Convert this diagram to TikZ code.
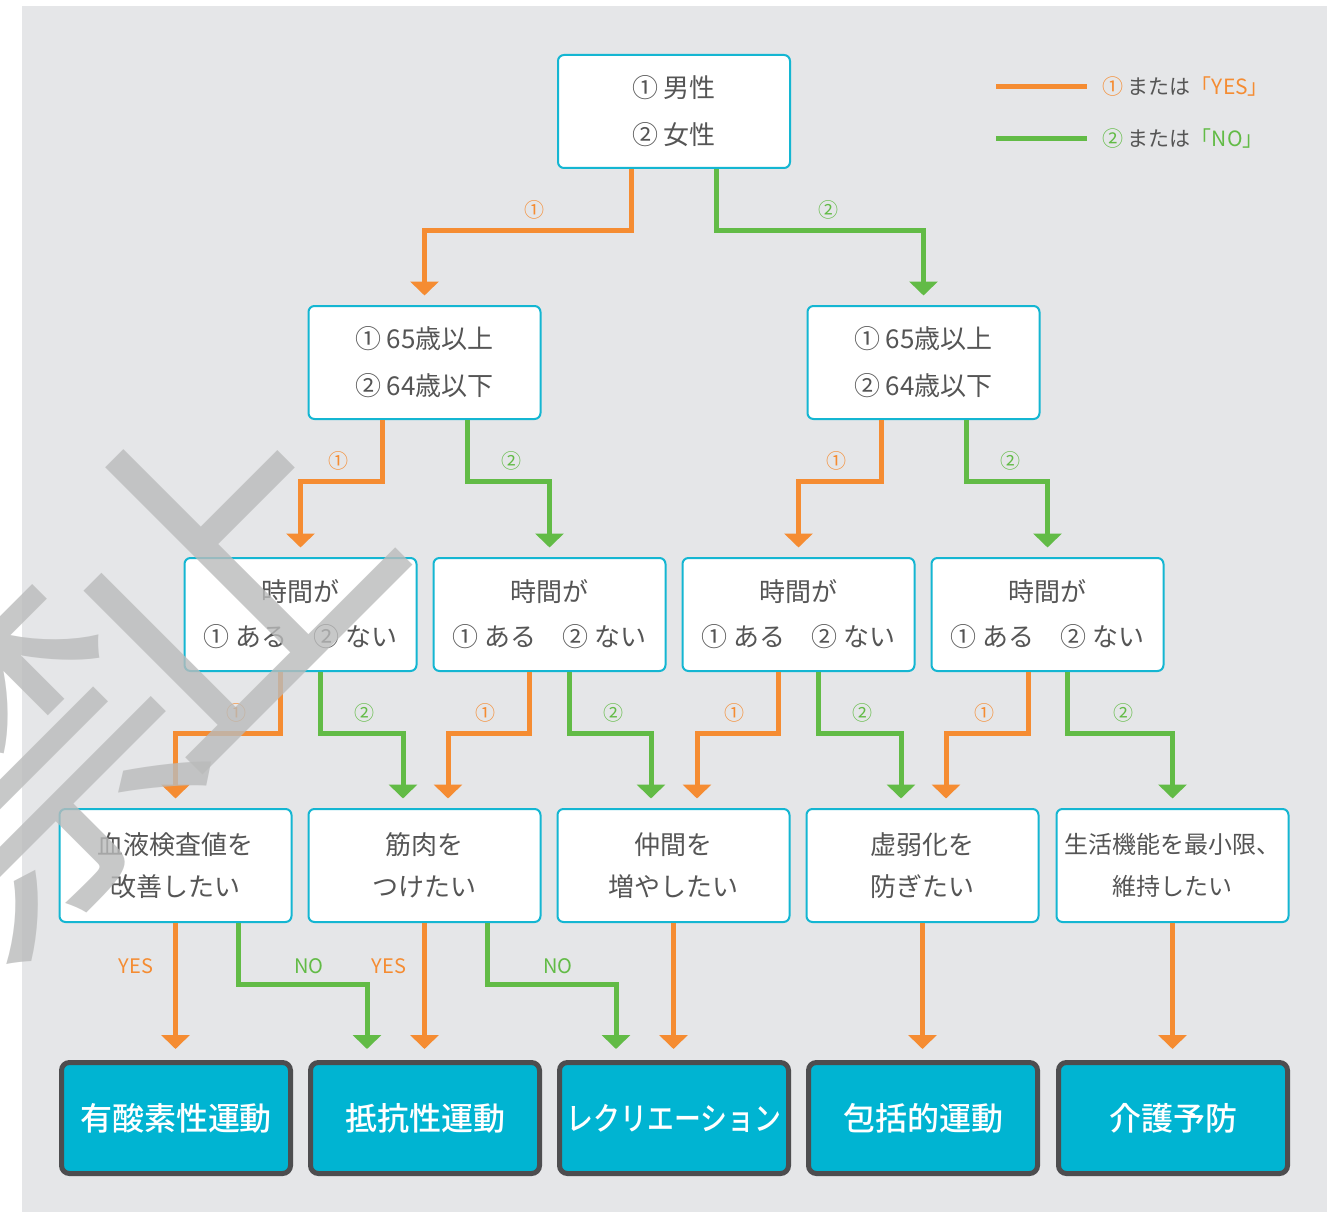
\documentclass[tikz,border=0pt]{standalone}
\usepackage{fontspec}
\setmainfont{Noto Sans CJK JP}[BoldFont={Noto Sans CJK JP Medium}]
\usetikzlibrary{arrows.meta}
\definecolor{bgc}{RGB}{229,230,232}
\definecolor{cyf}{RGB}{0,180,210}
\definecolor{cyb}{RGB}{20,182,210}
\definecolor{dk}{RGB}{77,77,79}
\definecolor{orc}{RGB}{245,140,50}
\definecolor{grc}{RGB}{98,187,70}
\definecolor{txt}{RGB}{85,85,85}
\definecolor{wm}{RGB}{186,187,187}
\begin{document}
\begin{tikzpicture}[x=1pt,y=-1pt,
 qbox/.style={draw=cyb, line width=2pt, fill=white, rounded corners=6pt, minimum width=232pt, minimum height=113pt, inner sep=0pt, align=center, text=txt, font=\fontsize{26}{47}\selectfont},
 abox/.style={draw=dk, line width=5pt, fill=cyf, rounded corners=8pt, minimum width=229pt, minimum height=111pt, inner sep=0pt, text=white, font=\fontsize{32}{36}\selectfont\bfseries},
 conn/.style={line width=5pt, -{Triangle[width=28pt,length=14pt]}, shorten >=9.5pt},
 oarr/.style={conn, draw=orc},
 garr/.style={conn, draw=grc},
 oarrb/.style={oarr, shorten >=11pt},
 garrb/.style={garr, shorten >=11pt},
 lbl/.style={font=\fontsize{20}{20}\selectfont, inner sep=0pt}]
\useasboundingbox (0,0) rectangle (1342,1212);
\fill[white] (0,0) rectangle (1342,1212);
\fill[bgc] (22,6) rectangle (1327,1212);

% level 1
\node[qbox] (A) at (674,111.5) {① 男性\\② 女性};
% level 2
\node[qbox] (B1) at (424.5,362.5) {① 65歳以上\\② 64歳以下};
\node[qbox] (B2) at (923.5,362.5) {① 65歳以上\\② 64歳以下};
% level 3
\foreach \n/\x in {C1/300.5,C2/549.5,C3/798.5,C4/1047.5}
  \node[qbox, font=\fontsize{26}{45}\selectfont] (\n) at (\x,614.5) {時間が\\① ある　② ない};
% level 4
\node[qbox, font=\fontsize{26}{42}\selectfont] (D1) at (175.5,865.5) {血液検査値を\\改善したい};
\node[qbox, font=\fontsize{26}{42}\selectfont] (D2) at (424.5,865.5) {筋肉を\\つけたい};
\node[qbox, font=\fontsize{26}{42}\selectfont] (D3) at (673.5,865.5) {仲間を\\増やしたい};
\node[qbox, font=\fontsize{26}{42}\selectfont] (D4) at (922.5,865.5) {虚弱化を\\防ぎたい};
\node[qbox, font=\fontsize{24}{42}\selectfont] (D5) at (1172.5,865.5) {生活機能を最小限、\\維持したい};
% level 5
\node[abox] (E1) at (176,1118) {有酸素性運動};
\node[abox] (E2) at (425,1118) {抵抗性運動};
\node[abox] (E3) at (674,1118) {\scalebox{0.84}[1]{レクリエーション}};
\node[abox] (E4) at (923,1118) {包括的運動};
\node[abox] (E5) at (1173,1118) {介護予防};

% connectors level 1 -> 2
\draw[oarr] ([xshift=-43pt]A.south) -- ++(0,61) -| (B1.north);
\draw[garr] ([xshift=42pt]A.south) -- ++(0,61) -| (B2.north);
% level 2 -> 3
\draw[oarr] ([xshift=-42.5pt]B1.south) -- ++(0,61) -| (C1.north);
\draw[garr] ([xshift=42.5pt]B1.south) -- ++(0,61) -| (C2.north);
\draw[oarr] ([xshift=-42.5pt]B2.south) -- ++(0,61) -| (C3.north);
\draw[garr] ([xshift=42.5pt]B2.south) -- ++(0,61) -| (C4.north);
% level 3 -> 4
\draw[oarr] ([xshift=-20.5pt]C1.south) -- ++(0,61) -| (D1.north);
\draw[garr] ([xshift=19.5pt]C1.south) -- ++(0,61) -| ([xshift=-21.5pt]D2.north);
\draw[oarr] ([xshift=-20.5pt]C2.south) -- ++(0,61) -| ([xshift=23.5pt]D2.north);
\draw[garr] ([xshift=19.5pt]C2.south) -- ++(0,61) -| ([xshift=-22.5pt]D3.north);
\draw[oarr] ([xshift=-20.5pt]C3.south) -- ++(0,61) -| ([xshift=23.5pt]D3.north);
\draw[garr] ([xshift=19.5pt]C3.south) -- ++(0,61) -| ([xshift=-21.5pt]D4.north);
\draw[oarr] ([xshift=-19.5pt]C4.south) -- ++(0,61) -| ([xshift=23.5pt]D4.north);
\draw[garr] ([xshift=19.5pt]C4.south) -- ++(0,61) -| (D5.north);
% level 4 -> 5
\draw[oarrb] (D1.south) -- (D1.south |- E1.north);
\draw[garrb] ([xshift=62.5pt]D1.south) -- ++(0,61) -| ([xshift=-58pt]E2.north);
\draw[oarrb] (D2.south) -- (D2.south |- E2.north);
\draw[garrb] ([xshift=62.5pt]D2.south) -- ++(0,61) -| ([xshift=-58pt]E3.north);
\draw[oarrb] (D3.south) -- (D3.south |- E3.north);
\draw[oarrb] (D4.south) -- (D4.south |- E4.north);
\draw[oarrb] (D5.south) -- (D5.south |- E5.north);

% labels
\node[lbl, text=orc] (la1) at (534,210) {①};
\node[lbl, text=grc] (la2) at (828,210) {②};
\foreach \x/\t/\c [count=\i] in {338/①/orc,511/②/grc,836/①/orc,1010/②/grc}
  \node[lbl, text=\c] (lb\i) at (\x,461) {\t};
\foreach \x/\t/\c [count=\i] in {236/①/orc,364/②/grc,485/①/orc,613/②/grc,734/①/orc,862/②/grc,984/①/orc,1123/②/grc}
  \node[lbl, text=\c] (lc\i) at (\x,713) {\t};
\node[lbl, text=orc] (ld1) at (136,966) {YES};
\node[lbl, text=grc] (ld2) at (309,966) {NO};
\node[lbl, text=orc] (ld3) at (389,966) {YES};
\node[lbl, text=grc] (ld4) at (558,966) {NO};

% legend
\coordinate (lg1a) at (996,87); \coordinate (lg1b) at (1087,87);
\coordinate (lg2a) at (996,139); \coordinate (lg2b) at (1087,139);
\draw[line width=5pt, orc] (lg1a) -- (lg1b);
\draw[line width=5pt, grc] (lg2a) -- (lg2b);
\node[anchor=west, inner sep=0pt, text=txt, font=\fontsize{21}{21}\selectfont] (lgt1) at (1102,87) {\textcolor{orc}{①} または\textcolor{orc}{「YES」}};
\node[anchor=west, inner sep=0pt, text=txt, font=\fontsize{21}{21}\selectfont] (lgt2) at (1102,139) {\textcolor{grc}{②} または\textcolor{grc}{「NO」}};

% watermark
\begin{scope}
\clip (0,0) rectangle (1342,1212);
\node[text=wm, opacity=0.8, rotate=45, inner sep=0pt, font=\fontsize{330}{330}\selectfont] (w1) at (207,569) {止};
\node[text=wm, opacity=0.8, rotate=45, inner sep=0pt, font=\fontsize{330}{330}\selectfont] (w2) at (18,767) {禁};
\end{scope}
\end{tikzpicture}
\end{document}
